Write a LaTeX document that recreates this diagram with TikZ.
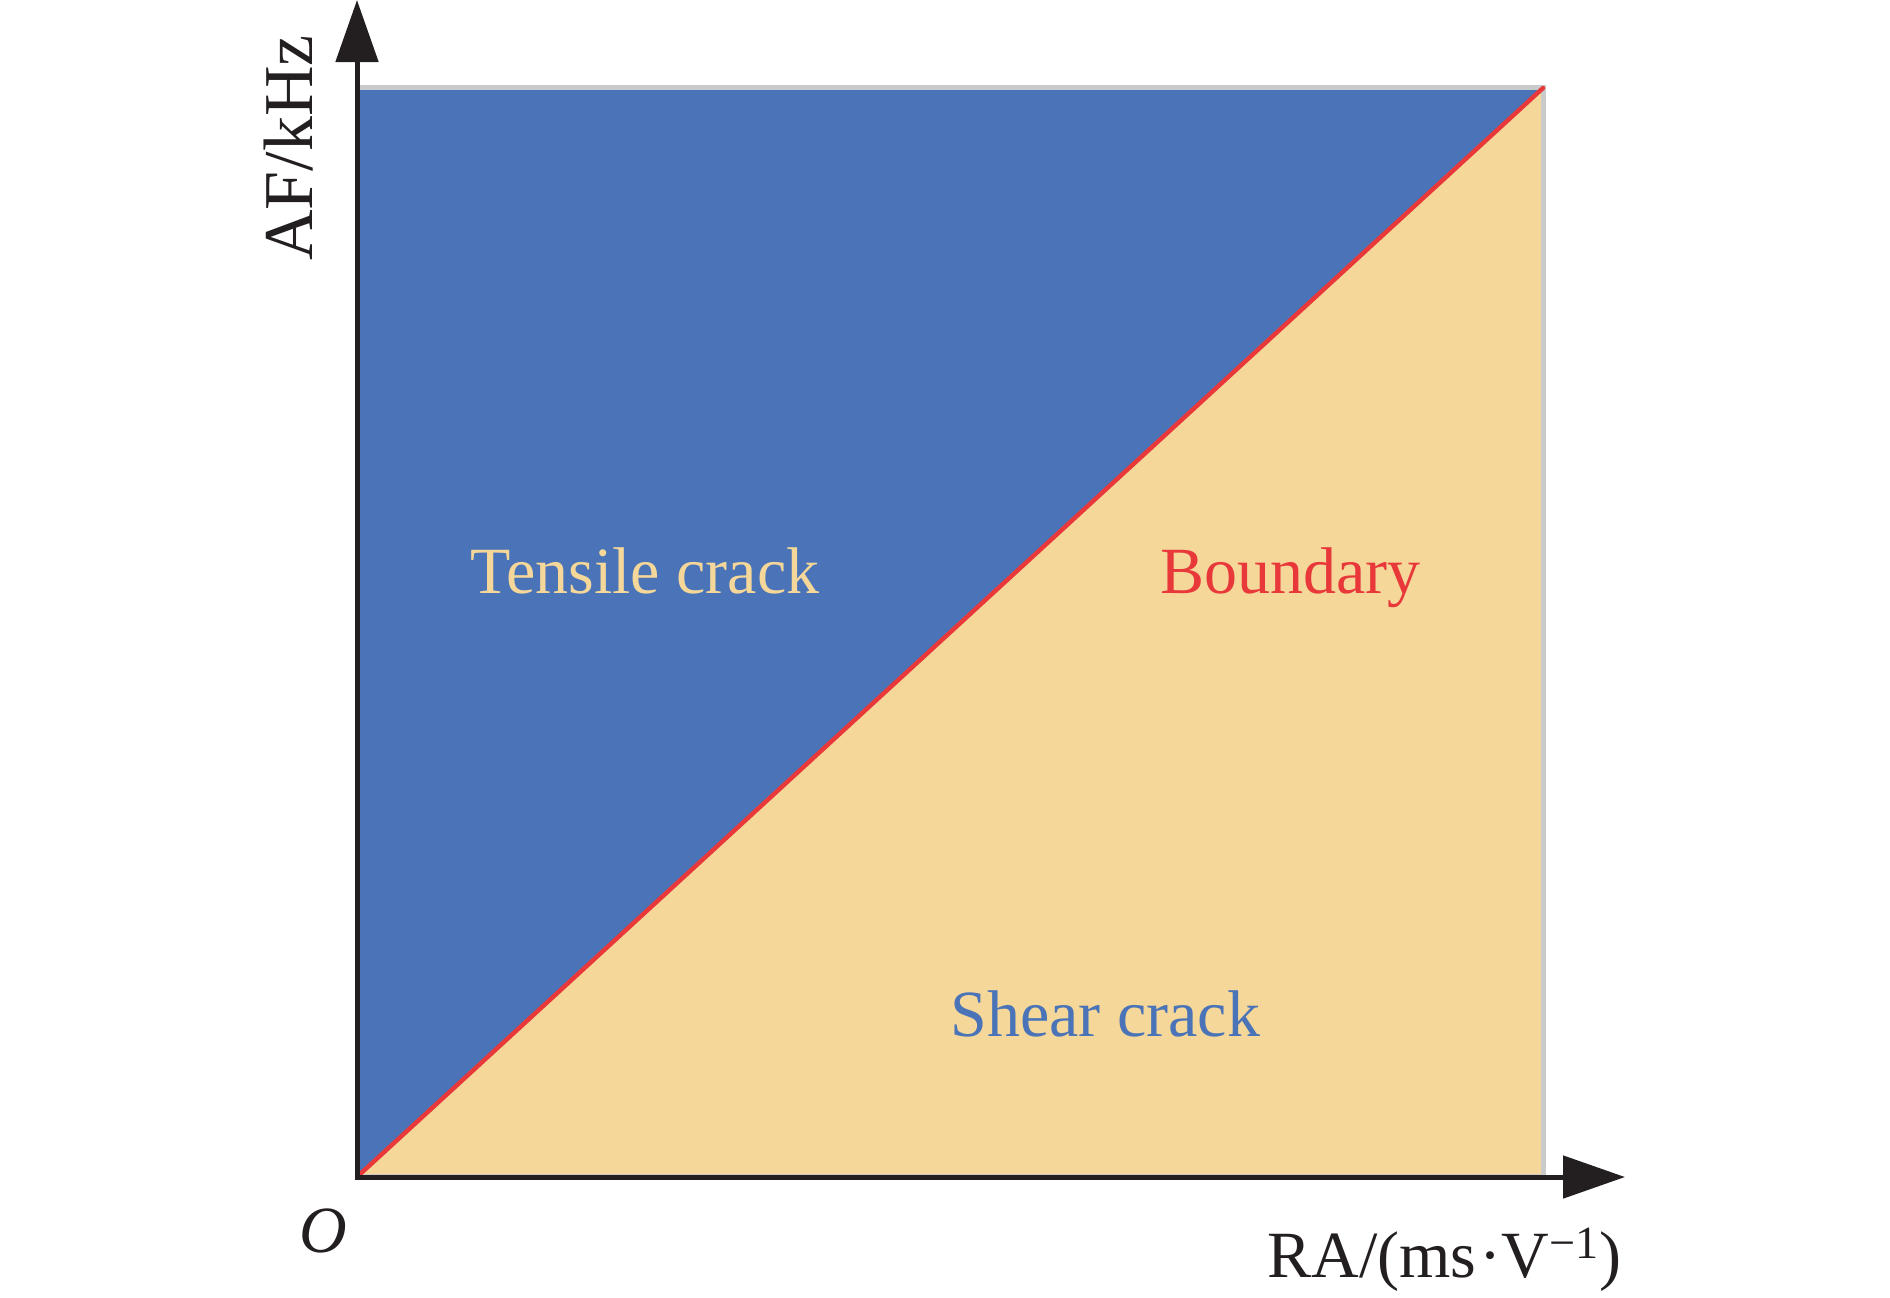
\documentclass[tikz,border=0pt]{standalone}
\usepackage{fontspec}
\setmainfont{Liberation Serif}
\usetikzlibrary{arrows.meta}
\definecolor{tblue}{RGB}{74,116,183}
\definecolor{ttan}{RGB}{245,215,153}
\definecolor{tred}{RGB}{232,56,58}
\definecolor{tgray}{RGB}{200,202,204}
\definecolor{taxis}{RGB}{35,31,32}
\tikzset{
  lbl/.style={font=\fontsize{33}{40}\selectfont, inner sep=0pt, anchor=base west},
  axisline/.style={draw=taxis, line width=2.5pt, -{Triangle[width=21pt,length=31pt]}},
}
\begin{document}
\begin{tikzpicture}[x=0.5pt,y=-0.5pt]
\useasboundingbox (0,0) rectangle (1890,1297);
% regions
\coordinate (O) at (358,1176);
\coordinate (TR) at (1543,88);
\fill[tgray] (356,85) rectangle (1546,1176);
\fill[ttan] (O) -- (1541,90) -- (1541,1174) -- (360,1174) -- cycle;
\fill[tblue] (O) -- (360,90) -- (1541,90) -- cycle;
\draw[tred, line width=2.2pt, line cap=round] (O) -- (TR);
% axes
\coordinate (yend) at (357,0);
\coordinate (xend) at (1625,1177);
\coordinate (ystart) at (357,1179);
\coordinate (xstart) at (355,1177);
\draw[axisline] (ystart) -- (yend);
\draw[axisline] (xstart) -- (xend);
% labels
\node[lbl, text=ttan] (tensile) at (470,593) {Tensile crack};
\node[lbl, text=tred] (boundary) at (1160,593) {Boundary};
\node[lbl, text=tblue] (shear) at (950,1036) {Shear crack};
\node[lbl, text=taxis, rotate=90, font=\fontsize{35}{40}\selectfont] (af) at (312,261) {AF/kHz};
\node[lbl, text=taxis] (ra) at (1267,1277) {RA/(ms\kern1.5pt·V\textsuperscript{−1})};
\node[font=\fontsize{33}{40}\selectfont\itshape, inner sep=0pt, text=taxis] (o) at (323,1231) {O};
\end{tikzpicture}
\end{document}
